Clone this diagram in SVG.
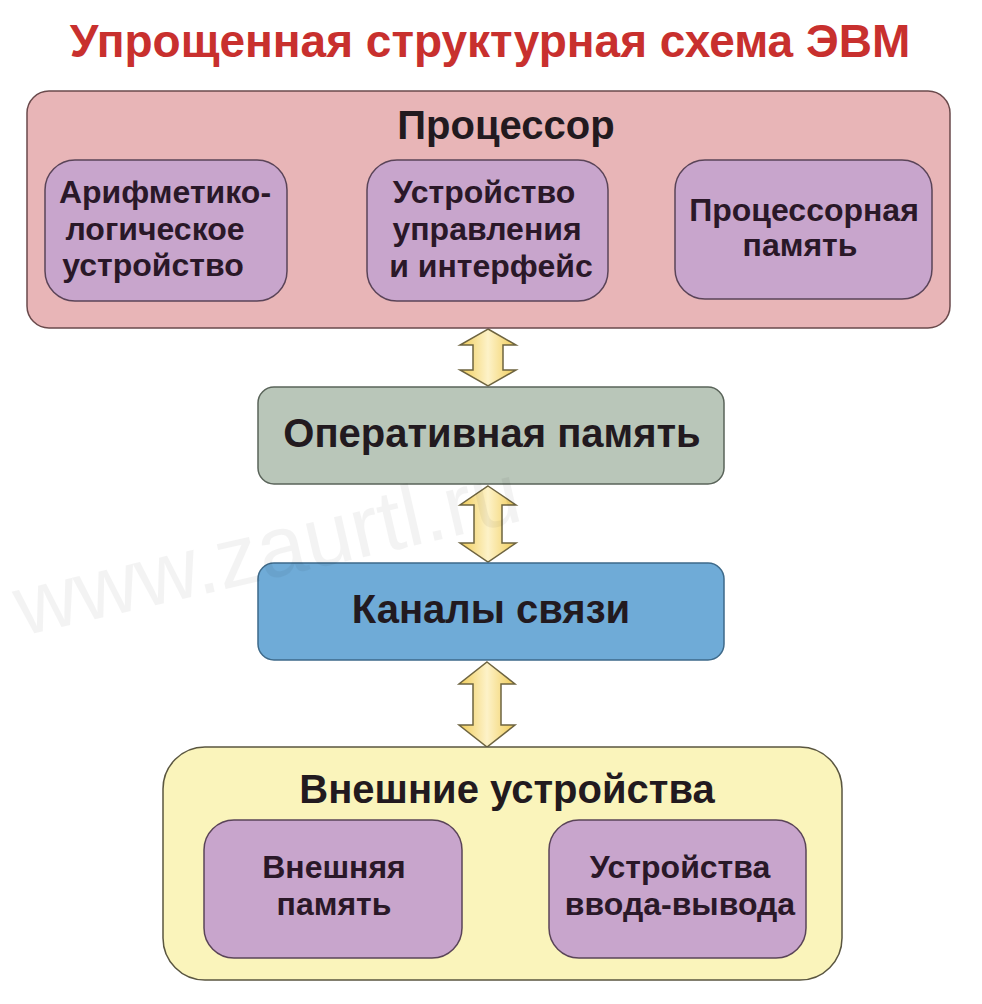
<svg xmlns="http://www.w3.org/2000/svg" width="982" height="1004" viewBox="0 0 982 1004">
<style>
.t{font-family:"Liberation Sans",Arial,sans-serif;font-weight:bold;text-anchor:middle;fill:#221a1f}
.big{font-size:40px}
.sub{font-size:32px;fill:#2a1828}
.inner{fill:#c8a5cc;stroke:#5a4458;stroke-width:1.5}
.arrow{fill:url(#ag);stroke:#6e6440;stroke-width:1.5;stroke-linejoin:miter}
</style>
<defs>
<linearGradient id="ag" x1="0" y1="0" x2="1" y2="0">
<stop offset="0" stop-color="#f0cc58"/>
<stop offset="0.5" stop-color="#fdf2c8"/>
<stop offset="1" stop-color="#f0cc58"/>
</linearGradient>
</defs>
<rect width="982" height="1004" fill="#ffffff"/>
<text id="title" x="490" y="57" style="font-family:'Liberation Sans',Arial,sans-serif;font-weight:bold;font-size:46px;fill:#c8302e;text-anchor:middle">Упрощенная структурная схема ЭВМ</text>
<g id="connectors">
<path class="arrow" d="M488,329 L516,345 L503,345 L503,370 L516,370 L488,386 L460,370 L473,370 L473,345 L460,345 Z"/>
<path class="arrow" d="M488,486 L516,505 L502,505 L502,543 L516,543 L488,562 L460,543 L474,543 L474,505 L460,505 Z"/>
<path class="arrow" d="M487,662 L515,684 L501,684 L501,725 L515,725 L487,747 L459,725 L473,725 L473,684 L459,684 Z"/>
</g>
<g id="processor">
<rect x="27" y="91" width="923" height="237" rx="22" fill="#e8b5b7" stroke="#6a4a4c" stroke-width="1.5"/>
<text class="t big" x="506" y="139">Процессор</text>
</g>
<g id="alu">
<rect class="inner" x="45" y="160" width="242" height="141" rx="30"/>
<text class="t sub" x="165" y="203">Арифметико-</text>
<text class="t sub" x="155" y="240">логическое</text>
<text class="t sub" x="153" y="276">устройство</text>
</g>
<g id="control">
<rect class="inner" x="367" y="160" width="241" height="141" rx="30"/>
<text class="t sub" x="484" y="203">Устройство</text>
<text class="t sub" x="487" y="240">управления</text>
<text class="t sub" x="491" y="277">и интерфейс</text>
</g>
<g id="cpumem">
<rect class="inner" x="675" y="160" width="257" height="139" rx="30"/>
<text class="t sub" x="804" y="221">Процессорная</text>
<text class="t sub" x="800" y="256">память</text>
</g>
<g id="ram">
<rect x="258" y="387" width="466" height="97" rx="16" fill="#b9c6b9" stroke="#5a645a" stroke-width="1.5"/>
<text class="t big" x="492" y="447">Оперативная память</text>
</g>
<g id="channels">
<rect x="258" y="563" width="466" height="97" rx="16" fill="#6fabd7" stroke="#3e6a8a" stroke-width="1.5"/>
<text class="t big" x="491" y="623">Каналы связи</text>
</g>
<g id="external">
<rect x="163" y="747" width="679" height="233" rx="42" fill="#faf4bb" stroke="#5a5640" stroke-width="1.5"/>
<text class="t big" x="507" y="803">Внешние устройства</text>
</g>
<g id="extmem">
<rect class="inner" x="204" y="820" width="258" height="138" rx="30"/>
<text class="t sub" x="334" y="878">Внешняя</text>
<text class="t sub" x="334" y="915">память</text>
</g>
<g id="io">
<rect class="inner" x="549" y="820" width="257" height="138" rx="30"/>
<text class="t sub" x="680" y="878">Устройства</text>
<text class="t sub" x="680" y="915">ввода-вывода</text>
</g>
<text id="watermark" x="22" y="636" transform="rotate(-13 22 636)" style="font-family:'Liberation Sans',Arial,sans-serif;font-size:86px;fill:#000000;opacity:0.045">www.zaurtl.ru</text>
</svg>
